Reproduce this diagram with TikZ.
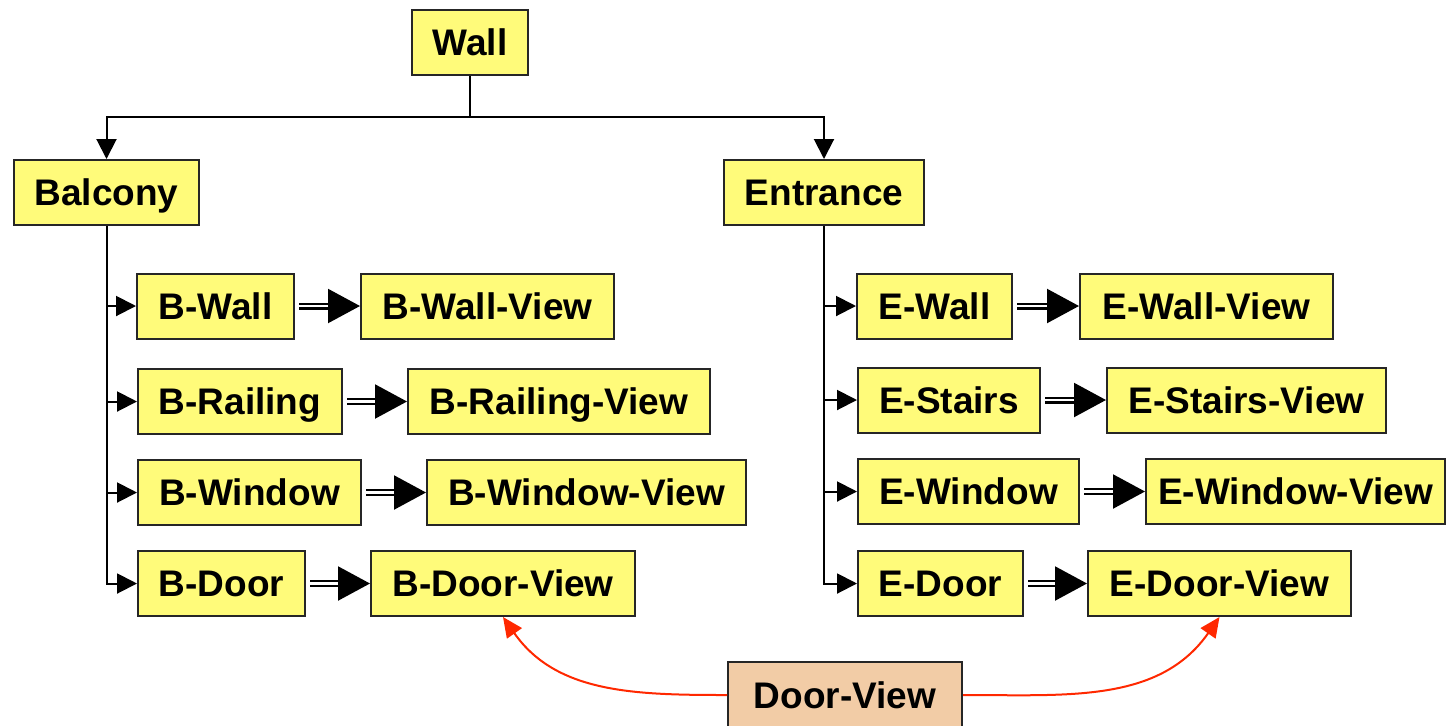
\documentclass[tikz,border=0pt]{standalone}
\usepackage{fontspec}
\setmainfont{Liberation Sans}
\usetikzlibrary{arrows.meta}
\definecolor{boxyellow}{RGB}{255,251,122}
\definecolor{boxpeach}{RGB}{242,204,166}
\definecolor{linkred}{RGB}{255,40,0}
\begin{document}
\begin{tikzpicture}[x=0.5pt,y=-0.5pt,line join=miter,
		box/.style={draw=black!85,line width=1pt,fill=boxyellow,minimum height=32.5pt,inner sep=0pt,text height=13.3pt,text depth=0pt,font=\fontsize{18.5}{22}\selectfont\bfseries},
		viewbox/.style={box,fill=boxpeach},
		tree/.style={line width=1pt,-{Triangle[length=10pt,width=10pt]}},
		dbl/.style={line width=1.1pt,double,double distance=1.3pt,shorten <=2pt,-{Triangle[length=16pt,width=17pt]}},
		link/.style={linkred,line width=1pt,-{Triangle[length=10pt,width=9pt]}}]
	\useasboundingbox (0,0) rectangle (1447,725);
	\node[box,minimum width=58pt] (wall) at (470,42.5) {Wall};
	\node[box,minimum width=92.5pt] (bal) at (106.5,192.5) {Balcony};
	\node[box,minimum width=100pt] (ent) at (824,192.5) {Entrance};
	\coordinate (split) at (470,117);
	\draw[line width=1pt] (wall.south) -- (split);
	\draw[tree] (split) -| (bal.north);
	\draw[tree] (split) -| (ent.north);
	%
	\node[box,minimum width=78.5pt] (bw) at (215.5,306) {B-Wall};
	\node[box,minimum width=126.5pt] (bwv) at (487.5,306) {B-Wall-View};
	\node[box,minimum width=102pt] (br) at (240,401.5) {B-Railing};
	\node[box,minimum width=151pt] (brv) at (559,401.5) {B-Railing-View};
	\node[box,minimum width=111.5pt] (bwin) at (249.5,492.5) {B-Window};
	\node[box,minimum width=159.5pt] (bwinv) at (586.5,492.5) {B-Window-View};
	\node[box,minimum width=83.5pt] (bd) at (221.5,583.5) {B-Door};
	\node[box,minimum width=132pt] (bdv) at (503,583.5) {B-Door-View};
	\foreach \n in {bw,br,bwin,bd}
		\draw[tree] (bal.south) |- (\n.west);
	\foreach \n in {bw,br,bwin,bd}
		\draw[dbl] (\n.east) -- (\n v.west);
	%
	\node[box,minimum width=77.5pt] (ew) at (934.5,306) {E-Wall};
	\node[box,minimum width=126.5pt] (ewv) at (1206.5,306) {E-Wall-View};
	\node[box,minimum width=91pt] (es) at (949,400) {E-Stairs};
	\node[box,minimum width=139.5pt] (esv) at (1246.5,400) {E-Stairs-View};
	\node[box,minimum width=110.5pt] (ewin) at (968.5,491.5) {E-Window};
	\node[box,minimum width=149.5pt] (ewinv) at (1295.5,491.5) {E-Window-View};
	\node[box,minimum width=82.5pt] (ed) at (940.5,583.5) {E-Door};
	\node[box,minimum width=131.5pt] (edv) at (1219.5,583.5) {E-Door-View};
	\foreach \n in {ew,es,ewin,ed}
		\draw[tree] (ent.south) |- (\n.west);
	\foreach \n in {ew,es,ewin,ed}
		\draw[dbl] (\n.east) -- (\n v.west);
	%
	\node[viewbox,minimum width=117pt,minimum height=33pt] (dv) at (845,695) {Door-View};
	\draw[link] (dv.west) to[out=180,in=-55] (bdv.south);
	\draw[link] (dv.east) to[out=0,in=-125] (edv.south);
\end{tikzpicture}
\end{document}
